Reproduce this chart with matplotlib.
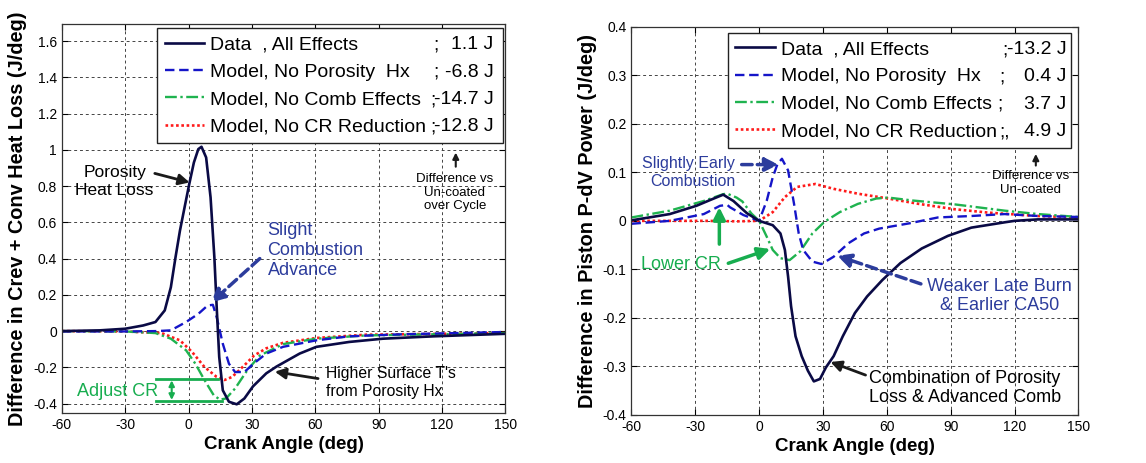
import matplotlib
matplotlib.use('Agg')
import matplotlib.pyplot as plt
import numpy as np
from matplotlib.ticker import FuncFormatter

plt.rcParams['font.family'] = ['Liberation Sans', 'DejaVu Sans']
plt.rcParams['axes.unicode_minus'] = False

# ---- left panel: crevice + convective heat loss difference (J/deg)
hl_data_x = [-60, -42, -30, -21.5, -15.7, -11.3, -8.4, -6.2, -4.1, -1.9, 0.3, 2.5, 4.6, 6.1, 8.3, 10.4,
             12.2, 13.3, 14.5, 16.2, 19.1, 22.8, 26.4, 30.5, 36.8, 41.6, 52.6, 60.5, 76, 92, 116, 150]
hl_data_y = [0.0, 0.004, 0.013, 0.031, 0.05, 0.114, 0.242, 0.407, 0.554, 0.683, 0.811, 0.93, 1.004, 1.017,
             0.958, 0.738, 0.407, 0.132, -0.143, -0.327, -0.39, -0.404, -0.372, -0.305, -0.233, -0.196,
             -0.124, -0.087, -0.06, -0.042, -0.029, -0.015]

hl_nopor_x = [-60, -30, -15, -8.4, -1.2, 4.6, 9, 11.5, 13.3, 16.2, 19.1, 22, 26.4, 30.7, 36.8, 44.7,
              60.5, 76, 100, 150]
hl_nopor_y = [-0.002, -0.002, 0.0, 0.004, 0.05, 0.095, 0.141, 0.145, 0.077, -0.07, -0.18, -0.226, -0.226,
              -0.18, -0.124, -0.087, -0.051, -0.029, -0.018, -0.005]

hl_nocomb_x = [-60, -30, -15.7, -8.4, -1.2, 3.2, 7.5, 11.9, 14.8, 17.7, 22, 27.8, 33.7, 44.7, 60.5,
               84, 150]
hl_nocomb_y = [0.0, -0.002, -0.011, -0.042, -0.106, -0.18, -0.27, -0.354, -0.378, -0.372, -0.317, -0.216,
               -0.135, -0.072, -0.042, -0.024, -0.011]

hl_nocr_x = [-60, -30, -12.8, -4.1, 1.7, 7.5, 13.3, 17, 20.6, 26.4, 31, 36.8, 44.7, 60.5, 84, 150]
hl_nocr_y = [0.0, -0.002, -0.011, -0.051, -0.116, -0.198, -0.253, -0.27, -0.253, -0.189, -0.135, -0.095,
             -0.065, -0.038, -0.02, -0.011]

# ---- right panel: piston P-dV power difference (J/deg)
pw_data_x = [-60, -42, -29.5, -23, -16.9, -12.1, -5.8, 0, 6.4, 10, 12.1, 13.6, 15, 17.1, 20, 22.9,
             25.7, 28.6, 31.4, 35, 39.3, 45, 50.7, 57.9, 66.4, 76.4, 88.7, 99.7, 115.4, 120, 131, 150]
pw_data_y = [0.001, 0.014, 0.031, 0.043, 0.054, 0.041, 0.016, 0.0, -0.009, -0.026, -0.06, -0.115, -0.176,
             -0.238, -0.279, -0.309, -0.331, -0.326, -0.302, -0.279, -0.238, -0.19, -0.156, -0.122,
             -0.087, -0.057, -0.031, -0.014, -0.003, 0.0, 0.003, 0.003]

pw_nopor_x = [-60, -42, -26, -18.4, -15, -13.7, -7.4, 0, 3.6, 6.4, 8.6, 10.7, 13.6, 16.4, 18.6, 20.7,
              25, 29.3, 35, 42, 49.3, 56.4, 70.7, 84, 99.7, 115.4, 131, 150]
pw_nopor_y = [-0.006, 0.0, 0.014, 0.031, 0.033, 0.028, 0.012, 0.0, 0.042, 0.09, 0.117, 0.128, 0.104, 0.035,
              -0.026, -0.06, -0.084, -0.089, -0.074, -0.046, -0.026, -0.016, -0.005, 0.007, 0.010, 0.014,
              0.010, 0.008]

pw_nocomb_x = [-60, -42, -26, -16.9, -15, -10.6, -7.9, -3.6, 0, 3.6, 6.4, 10, 14.3, 19.3, 25, 30.7,
               37.9, 46.4, 55, 60.7, 72, 91.8, 115.4, 131, 150]
pw_nocomb_y = [0.007, 0.021, 0.041, 0.055, 0.056, 0.048, 0.04, 0.015, 0.0, -0.033, -0.06, -0.077, -0.081,
               -0.063, -0.026, -0.002, 0.018, 0.035, 0.046, 0.048, 0.042, 0.034, 0.021, 0.014, 0.008]

pw_nocr_x = [-60, -42, -26, -10, 0, 6.4, 12.1, 17.9, 26.4, 35, 46.4, 60.7, 75, 91.8, 107.6, 131, 150]
pw_nocr_y = [0.0, 0.0, 0.0, -0.001, 0.0, 0.018, 0.049, 0.07, 0.076, 0.066, 0.056, 0.046, 0.035, 0.024,
             0.017, 0.010, 0.007]

series_names = ['Data  , All Effects', 'Model, No Porosity  Hx', 'Model, No Comb Effects', 'Model, No CR Reduction']
hl_values = ['1.1 J', '-6.8 J', '-14.7 J', '-12.8 J']
pw_values = ['-13.2 J', '0.4 J', '3.7 J', '4.9 J']
hl_semis = [';', ';', ';', ';']
pw_semis = [';', ';', ';', ';,']

navy = '#0a0a45'
blue = '#1515c8'
green = '#1fb34f'
red = '#ff1a1a'
txt_blue = '#2c3c9c'
txt_green = '#17ad4f'

styles = [dict(color=navy, ls='-', lw=1.9),
          dict(color=blue, ls=(0, (4, 2)), lw=1.7),
          dict(color=green, ls=(0, (5, 1.5, 1, 1.5)), lw=1.7),
          dict(color=red, ls=(0, (1, 1)), lw=1.9)]

fig = plt.figure(figsize=(11.46, 4.63), dpi=100)
ax1 = fig.add_axes([0.054, 0.108, 0.387, 0.840])
ax2 = fig.add_axes([0.551, 0.104, 0.390, 0.838])


def style_axes(ax, ylim, yticks, ylabel):
    ax.set_xlim(-60, 150)
    ax.set_ylim(*ylim)
    ax.set_xticks(np.arange(-60, 151, 30))
    ax.set_yticks(yticks)
    ax.yaxis.set_major_formatter(FuncFormatter(lambda v, p: ('%g' % round(v, 2)) if abs(v) > 1e-9 else '0'))
    ax.grid(True, ls=(0, (3, 3)), color='#444444', lw=0.7)
    ax.tick_params(direction='in', length=4, labelsize=10, top=True, right=True)
    for s in ax.spines.values():
        s.set_color('#333333')
        s.set_linewidth(0.9)
    ax.set_xlabel('Crank Angle (deg)', fontsize=13.5, fontweight='bold', labelpad=3)
    ax.set_ylabel(ylabel, fontsize=14.3, fontweight='bold', labelpad=4)


style_axes(ax1, (-0.452, 1.694), np.arange(-0.4, 1.61, 0.2), 'Difference in Crev + Conv Heat Loss (J/deg)')
style_axes(ax2, (-0.4, 0.4), np.arange(-0.4, 0.41, 0.1), 'Difference in Piston P-dV Power (J/deg)')

hl_series = [(hl_data_x, hl_data_y), (hl_nopor_x, hl_nopor_y), (hl_nocomb_x, hl_nocomb_y), (hl_nocr_x, hl_nocr_y)]
pw_series = [(pw_data_x, pw_data_y), (pw_nopor_x, pw_nopor_y), (pw_nocomb_x, pw_nocomb_y), (pw_nocr_x, pw_nocr_y)]

legs = []
for ax, series, box in ((ax1, hl_series, (0.214, 0.99, 0.781, 0)), (ax2, pw_series, (0.215, 0.985, 0.769, 0))):
    handles = [None] * 4
    for i in [3, 2, 1, 0]:
        handles[i], = ax.plot(series[i][0], series[i][1], **styles[i])
    leg = ax.legend(handles, series_names, loc='upper left', bbox_to_anchor=box,
                    mode='expand', borderaxespad=0, fontsize=14, handlelength=2.05, handletextpad=0.3,
                    labelspacing=0.5, borderpad=0.4, fancybox=False, framealpha=1, edgecolor='#222222')
    leg.get_frame().set_linewidth(1.0)
    legs.append(leg)

# semicolons and cycle totals, aligned to each legend row
fig.canvas.draw()
r = fig.canvas.get_renderer()
for ax, leg, semis, vals, semi_x in ((ax1, legs[0], hl_semis, hl_values, [0.837, 0.837, 0.83, 0.83]),
                                     (ax2, legs[1], pw_semis, pw_values, [0.830, 0.823, 0.818, 0.823])):
    inv = ax.transAxes.inverted()
    for t, s, v, sx in zip(leg.get_texts(), semis, vals, semi_x):
        bb = t.get_window_extent(r)
        yc = inv.transform((0, (bb.y0 + bb.y1) / 2))[1]
        ax.text(sx, yc, s, transform=ax.transAxes, fontsize=14, ha='left', va='center', zorder=10)
        ax.text(0.973, yc, v, transform=ax.transAxes, fontsize=14, ha='right', va='center', zorder=10)

black_arrow = dict(arrowstyle='-|>', color='#1a1a1a', lw=2, mutation_scale=16, shrinkA=0, shrinkB=0)
blue_arrow = dict(arrowstyle='-|>', color=txt_blue, lw=2.5, ls=(0, (3, 1.5)), mutation_scale=20, shrinkA=0, shrinkB=0)
green_arrow = dict(arrowstyle='-|>', color=txt_green, lw=2.5, mutation_scale=18, shrinkA=0, shrinkB=0)

# left panel annotations
ax1.text(-35, 0.826, 'Porosity\nHeat Loss', fontsize=12.5, ha='center', va='center')
ax1.annotate('', xy=(0.5, 0.82), xytext=(-16, 0.87), arrowprops=black_arrow)
ax1.text(37.4, 0.445, 'Slight\nCombustion\nAdvance', fontsize=13, ha='left', va='center', color=txt_blue)
ax1.annotate('', xy=(10.7, 0.158), xytext=(33.7, 0.40), arrowprops=blue_arrow)
ax1.text(-52.9, -0.333, 'Adjust CR', fontsize=13, ha='left', va='center', color=txt_green)
ax1.plot([-15.6, 14.0], [-0.267, -0.267], color=txt_green, lw=2)
ax1.plot([-15.6, 16.0], [-0.385, -0.385], color=txt_green, lw=2)
ax1.annotate('', xy=(-8, -0.272), xytext=(-8, -0.38),
             arrowprops=dict(arrowstyle='<|-|>', color=txt_green, lw=1.5, mutation_scale=8, shrinkA=0, shrinkB=0))
ax1.text(64.9, -0.283, "Higher Surface T's\nfrom Porosity Hx", fontsize=11.3, ha='left', va='center')
ax1.annotate('', xy=(40.8, -0.224), xytext=(61.3, -0.262), arrowprops=black_arrow)
ax1.text(126, 0.764, 'Difference vs\nUn-coated\nover Cycle', fontsize=9.5, ha='center', va='center')
ax1.annotate('', xy=(126.5, 0.985), xytext=(126.5, 0.907),
             arrowprops=dict(arrowstyle='-|>', color='#1a1a1a', lw=1.5, mutation_scale=9, shrinkA=0, shrinkB=0))

# right panel annotations
ax2.text(-11.3, 0.1, 'Slightly Early\nCombustion', fontsize=11.5, ha='right', va='center', color=txt_blue)
ax2.annotate('', xy=(9.1, 0.116), xytext=(-8.2, 0.116), arrowprops=blue_arrow)
ax2.annotate('', xy=(-18.7, 0.028), xytext=(-18.7, -0.048), arrowprops=green_arrow)
ax2.text(-55.4, -0.089, 'Lower CR', fontsize=13, ha='left', va='center', color=txt_green)
ax2.annotate('', xy=(5.2, -0.058), xytext=(-14.5, -0.0875), arrowprops=green_arrow)
ax2.text(113, -0.155, 'Weaker Late Burn\n& Earlier CA50', fontsize=13, ha='center', va='center', color=txt_blue)
ax2.annotate('', xy=(36.7, -0.072), xytext=(76, -0.13), arrowprops=blue_arrow)
ax2.text(51.7, -0.345, 'Combination of Porosity\nLoss & Advanced Comb', fontsize=13, ha='left', va='center')
ax2.annotate('', xy=(33.5, -0.291), xytext=(50, -0.318), arrowprops=black_arrow)
ax2.text(127.7, 0.078, 'Difference vs\nUn-coated', fontsize=9.5, ha='center', va='center')
ax2.annotate('', xy=(130, 0.138), xytext=(130, 0.114),
             arrowprops=dict(arrowstyle='-|>', color='#1a1a1a', lw=1.5, mutation_scale=9, shrinkA=0, shrinkB=0))

fig.savefig('out.png', dpi=100)
